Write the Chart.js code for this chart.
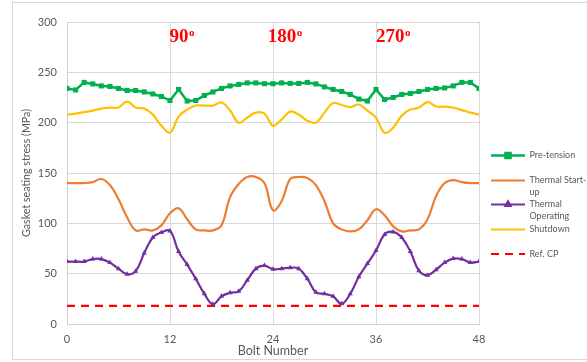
<!DOCTYPE html>
<html>
<head>
<meta charset="utf-8">
<script src="https://cdn.jsdelivr.net/npm/chart.js@4.4.1/dist/chart.umd.min.js"></script>
<style>
  html, body { margin: 0; padding: 0; background: #fff; }
  #wrap { position: relative; width: 587px; height: 362px; overflow: hidden; }
  #frame { position: absolute; left: 12px; top: 2px; width: 620px; height: 358px; border: 1px solid #d9d9d9; box-sizing: border-box; }
  canvas { position: absolute; left: 0; top: 0; }
</style>
</head>
<body>
<div id="wrap">
  <div id="frame"></div>
  <canvas id="stressChart" width="587" height="362"></canvas>
</div>
<script>
const bolts = [0, 1, 2, 3, 4, 5, 6, 7, 8, 9, 10, 11, 12, 13, 14, 15, 16, 17, 18, 19, 20, 21, 22, 23, 24,
  25, 26, 27, 28, 29, 30, 31, 32, 33, 34, 35, 36, 37, 38, 39, 40, 41, 42, 43, 44, 45, 46, 47, 48];

const preTension = [234, 232.5, 240, 238.5, 236.5, 236, 234, 232, 232, 230.5,
  228.5, 226, 222, 233, 221.5, 222, 227, 230.5, 234, 236.5,
  238, 239.5, 239.5, 238.7, 238.7, 239.5, 239, 239, 240, 238.5,
  235.5, 233, 231, 228, 223.5, 221.5, 233, 223, 225, 228,
  229, 231, 233, 234, 234.5, 236.5, 240, 240, 234];

const thermalStartup = [140, 140, 140, 141, 144, 138, 124, 106, 93, 94,
  93, 98, 110, 115, 104, 94, 93, 93, 98, 126,
  139, 146, 146, 140, 113, 122, 144, 146, 145, 138,
  122, 100, 94, 92, 94, 103, 114, 108, 97, 92,
  93, 94, 104, 127, 140, 143, 141, 140, 140];

const thermalOperating = [62, 62, 62, 64.5, 64.5, 61, 55, 49.5, 52.5, 70.5,
  86, 91, 92.5, 72, 59, 45, 30, 19.5, 27.5, 31,
  32.5, 43.5, 55, 58, 54.5, 55, 56, 55, 45, 31.5,
  30, 27.5, 20, 30, 47, 60, 73, 89, 91.5, 86,
  72, 53, 48.5, 54, 61, 65, 64.5, 61, 62];

const shutdown = [208, 209, 210.5, 212, 214, 215, 215, 221, 215, 214,
  208, 197, 190, 206, 213, 217, 217, 217, 220, 212,
  200, 205, 210, 209, 197, 203, 211, 208, 202, 200,
  210, 219.5, 217.5, 215.5, 218, 212, 205, 190, 195, 207,
  213, 215, 220.5, 216, 216, 215, 212.5, 210, 208];

const refCP = bolts.map(() => 18);

const angleLabels = ['90', '180', '270'];
const angleAt = [11.95, 23.4, 36];
const angleLevel = 280;

const seriesNames = [['Pre-tension'], ['Thermal Start-', 'up'], ['Thermal', 'Operating'], ['Shutdown'], ['Ref. CP']];

const tickFont = { family: 'Lato', size: 11 };
const grey = '#595959';

// red angle markers over the plot
const anglePlugin = {
  id: 'angles',
  afterDatasetsDraw(chart) {
    const { ctx, scales: { x, y } } = chart;
    ctx.save();
    ctx.fillStyle = '#ff0000';
    ctx.textAlign = 'left';
    ctx.textBaseline = 'alphabetic';
    angleLabels.forEach((txt, i) => {
      const px = x.getPixelForValue(angleAt[i]);
      const py = y.getPixelForValue(angleLevel);
      ctx.font = 'bold 19px "Liberation Serif"';
      ctx.fillText(txt, px, py);
      const w = ctx.measureText(txt).width;
      ctx.font = 'bold 11px "Liberation Serif"';
      ctx.fillText('o', px + w + 0.5, py - 6);
    });
    ctx.restore();
  }
};

// legend on the right, Excel style with wrapped labels
const legendPlugin = {
  id: 'sideLegend',
  afterDraw(chart) {
    const { ctx } = chart;
    const rowY = [155.5, 180.5, 204.5, 229.5, 254];
    ctx.save();
    chart.data.datasets.forEach((ds, i) => {
      const y = rowY[i];
      ctx.strokeStyle = ds.borderColor;
      ctx.lineWidth = ds.borderWidth;
      ctx.setLineDash(ds.borderDash || []);
      ctx.beginPath();
      ctx.moveTo(491, y);
      ctx.lineTo(525, y);
      ctx.stroke();
      ctx.setLineDash([]);
      if (ds.pointRadius > 0) {
        Chart.helpers.drawPoint(ctx, {
          pointStyle: ds.pointStyle, radius: ds.pointRadius, borderWidth: 1
        }, 508, y);
        ctx.fillStyle = ds.borderColor;
        ctx.fill();
      }
      ctx.fillStyle = grey;
      ctx.font = '9px Lato';
      ctx.textAlign = 'left';
      ctx.textBaseline = 'middle';
      seriesNames[i].forEach((line, k) => ctx.fillText(line, 529.5, y + k * 11.5));
    });
    ctx.restore();
  }
};

new Chart(document.getElementById('stressChart'), {
  type: 'line',
  data: {
    labels: bolts,
    datasets: [
      {
        label: 'Pre-tension', data: preTension,
        borderColor: '#00b050', backgroundColor: '#00b050', borderWidth: 2.5,
        pointStyle: 'rect', pointRadius: 3.6, pointBorderWidth: 0, tension: 0
      },
      {
        label: 'Thermal Start-up', data: thermalStartup,
        borderColor: '#ed7d31', backgroundColor: '#ed7d31', borderWidth: 2.2,
        pointRadius: 0, tension: 0.4
      },
      {
        label: 'Thermal Operating', data: thermalOperating,
        borderColor: '#7030a0', backgroundColor: '#7030a0', borderWidth: 2.2,
        pointStyle: 'triangle', pointRadius: 3, pointBorderWidth: 0, tension: 0.4
      },
      {
        label: 'Shutdown', data: shutdown,
        borderColor: '#ffc000', backgroundColor: '#ffc000', borderWidth: 2.2,
        pointRadius: 0, tension: 0.4
      },
      {
        label: 'Ref. CP', data: refCP,
        borderColor: '#ff0000', backgroundColor: '#ff0000', borderWidth: 2.2,
        borderDash: [8, 6], pointRadius: 0, tension: 0
      }
    ]
  },
  options: {
    responsive: false,
    animation: false,
    layout: { padding: { left: 0, right: 108, top: 22, bottom: 0 } },
    plugins: { legend: { display: false }, tooltip: { enabled: false } },
    scales: {
      x: {
        type: 'linear', min: 0, max: 48,
        afterFit: (scale) => { scale.height = 38; },
        ticks: { stepSize: 12, color: grey, font: tickFont, padding: 9 },
        grid: { color: '#d9d9d9', drawTicks: false },
        border: { color: '#d0d0d0' },
        title: { display: true, text: 'Bolt Number', color: grey, font: { family: 'Lato', size: 12.5 }, padding: { top: 4, bottom: 4 } }
      },
      y: {
        min: 0, max: 300,
        afterFit: (scale) => { scale.width = 67; },
        ticks: { stepSize: 50, color: grey, font: tickFont, padding: 10 },
        grid: { color: '#d9d9d9', drawTicks: false },
        border: { color: '#d0d0d0' },
        title: { display: true, text: 'Gasket seating stress (MPa)', color: grey, font: { family: 'Lato', size: 10.7 }, padding: { top: 20.5, bottom: 4 } }
      }
    }
  },
  plugins: [anglePlugin, legendPlugin]
});
</script>
</body>
</html>
